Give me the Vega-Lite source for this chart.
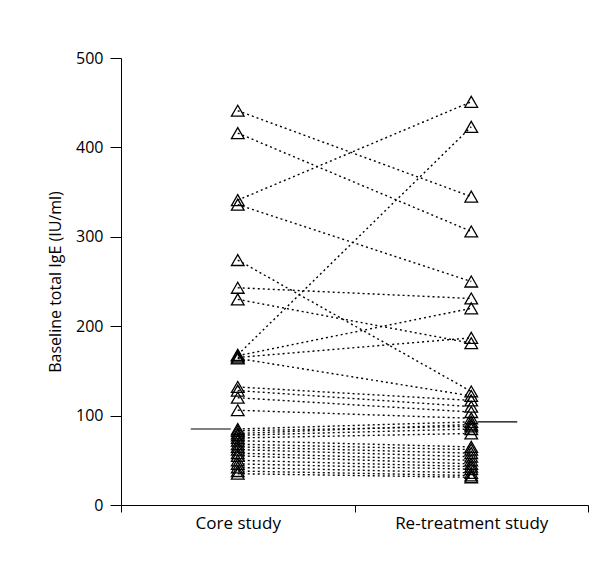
{
  "$schema": "https://vega.github.io/schema/vega-lite/v6.json",
  "width": 467,
  "height": 447,
  "autosize": {"type": "none"},
  "padding": {"left": 121, "top": 58, "right": 28, "bottom": 64},
  "background": "white",
  "config": {"view": {"stroke": null}, "font": "Open Sans"},
  "datasets": {
    "pairs": [
      {"subject": 1, "study": "Core study", "ige": 441}, {"subject": 1, "study": "Re-treatment study", "ige": 345},
      {"subject": 2, "study": "Core study", "ige": 416}, {"subject": 2, "study": "Re-treatment study", "ige": 306},
      {"subject": 3, "study": "Core study", "ige": 341}, {"subject": 3, "study": "Re-treatment study", "ige": 451},
      {"subject": 4, "study": "Core study", "ige": 336}, {"subject": 4, "study": "Re-treatment study", "ige": 250},
      {"subject": 5, "study": "Core study", "ige": 274}, {"subject": 5, "study": "Re-treatment study", "ige": 127},
      {"subject": 6, "study": "Core study", "ige": 243}, {"subject": 6, "study": "Re-treatment study", "ige": 231},
      {"subject": 7, "study": "Core study", "ige": 230}, {"subject": 7, "study": "Re-treatment study", "ige": 181},
      {"subject": 8, "study": "Core study", "ige": 168}, {"subject": 8, "study": "Re-treatment study", "ige": 423},
      {"subject": 9, "study": "Core study", "ige": 167}, {"subject": 9, "study": "Re-treatment study", "ige": 220},
      {"subject": 10, "study": "Core study", "ige": 165}, {"subject": 10, "study": "Re-treatment study", "ige": 187},
      {"subject": 11, "study": "Core study", "ige": 164}, {"subject": 11, "study": "Re-treatment study", "ige": 122},
      {"subject": 12, "study": "Core study", "ige": 132}, {"subject": 12, "study": "Re-treatment study", "ige": 117},
      {"subject": 13, "study": "Core study", "ige": 128}, {"subject": 13, "study": "Re-treatment study", "ige": 110},
      {"subject": 14, "study": "Core study", "ige": 120}, {"subject": 14, "study": "Re-treatment study", "ige": 104},
      {"subject": 15, "study": "Core study", "ige": 106}, {"subject": 15, "study": "Re-treatment study", "ige": 97},
      {"subject": 16, "study": "Core study", "ige": 85}, {"subject": 16, "study": "Re-treatment study", "ige": 93},
      {"subject": 17, "study": "Core study", "ige": 83}, {"subject": 17, "study": "Re-treatment study", "ige": 88},
      {"subject": 18, "study": "Core study", "ige": 80}, {"subject": 18, "study": "Re-treatment study", "ige": 90},
      {"subject": 19, "study": "Core study", "ige": 78}, {"subject": 19, "study": "Re-treatment study", "ige": 85},
      {"subject": 20, "study": "Core study", "ige": 75}, {"subject": 20, "study": "Re-treatment study", "ige": 80},
      {"subject": 21, "study": "Core study", "ige": 72}, {"subject": 21, "study": "Re-treatment study", "ige": 65},
      {"subject": 22, "study": "Core study", "ige": 68}, {"subject": 22, "study": "Re-treatment study", "ige": 62},
      {"subject": 23, "study": "Core study", "ige": 65}, {"subject": 23, "study": "Re-treatment study", "ige": 58},
      {"subject": 24, "study": "Core study", "ige": 62}, {"subject": 24, "study": "Re-treatment study", "ige": 54},
      {"subject": 25, "study": "Core study", "ige": 58}, {"subject": 25, "study": "Re-treatment study", "ige": 50},
      {"subject": 26, "study": "Core study", "ige": 55}, {"subject": 26, "study": "Re-treatment study", "ige": 46},
      {"subject": 27, "study": "Core study", "ige": 50}, {"subject": 27, "study": "Re-treatment study", "ige": 43},
      {"subject": 28, "study": "Core study", "ige": 46}, {"subject": 28, "study": "Re-treatment study", "ige": 40},
      {"subject": 29, "study": "Core study", "ige": 42}, {"subject": 29, "study": "Re-treatment study", "ige": 36},
      {"subject": 30, "study": "Core study", "ige": 38}, {"subject": 30, "study": "Re-treatment study", "ige": 33},
      {"subject": 31, "study": "Core study", "ige": 35}, {"subject": 31, "study": "Re-treatment study", "ige": 31}
    ],
    "medians": [
      {"study": "Core study", "median": 85},
      {"study": "Re-treatment study", "median": 93}
    ]
  },
  "encoding": {
    "x": {
      "field": "study",
      "type": "nominal",
      "scale": {"type": "band", "domain": ["Core study", "Re-treatment study"], "paddingInner": 0, "paddingOuter": 0},
      "axis": {
        "title": null,
        "labelAngle": 0,
        "tickBand": "extent",
        "domainColor": "black",
        "tickColor": "black",
        "tickSize": 7,
        "labelFontSize": 17,
        "labelColor": "black",
        "labelPadding": 3,
        "labelFont": "Open Sans"
      }
    }
  },
  "layer": [
    {
      "data": {"name": "pairs"},
      "mark": {"type": "line", "strokeDash": [2, 3], "strokeWidth": 1.4, "color": "black"},
      "encoding": {
        "y": {"field": "ige", "type": "quantitative"},
        "detail": {"field": "subject", "type": "nominal"}
      }
    },
    {
      "data": {"name": "pairs"},
      "mark": {"type": "point", "shape": "triangle-up", "filled": false, "size": 160, "color": "black", "strokeWidth": 1.3, "opacity": 1, "fill": "white", "fillOpacity": 0},
      "encoding": {
        "y": {
          "field": "ige",
          "type": "quantitative",
          "scale": {"domain": [0, 500], "nice": false},
          "axis": {
            "title": "Baseline total IgE (IU/ml)",
            "values": [0, 100, 200, 300, 400, 500],
            "grid": false,
            "domainColor": "black",
            "tickColor": "black",
            "tickSize": 11,
            "labelFontSize": 16,
            "labelColor": "black",
            "labelPadding": 7,
            "titleFontSize": 16,
            "titleFontWeight": "normal",
            "titleColor": "black",
            "titlePadding": 12
          }
        }
      }
    },
    {
      "data": {"name": "medians"},
      "transform": [{"filter": "datum.study === 'Core study'"}],
      "mark": {"type": "tick", "orient": "horizontal", "xOffset": -27, "color": "black", "thickness": 1.2, "size": 40, "opacity": 1},
      "encoding": {"y": {"field": "median", "type": "quantitative"}}
    },
    {
      "data": {"name": "medians"},
      "transform": [{"filter": "datum.study === 'Re-treatment study'"}],
      "mark": {"type": "tick", "orient": "horizontal", "xOffset": 26, "color": "black", "thickness": 1.2, "size": 40, "opacity": 1},
      "encoding": {"y": {"field": "median", "type": "quantitative"}}
    }
  ]
}
